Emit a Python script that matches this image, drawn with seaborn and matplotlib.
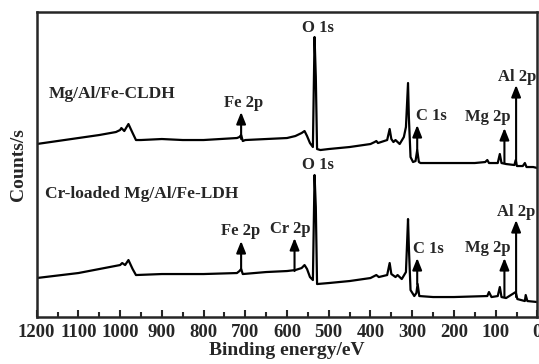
import matplotlib
matplotlib.use('Agg')
import matplotlib.pyplot as plt
from matplotlib.ticker import MultipleLocator
import seaborn as sns
import pandas as pd

# survey spectra (binding energy in eV, counts in arbitrary units)
cldh_ev = [1200, 1150, 1100, 1050, 1010, 1000, 997, 990, 980, 970, 962, 950, 900, 850, 800,
           760, 720, 714, 710, 706, 700, 650, 600, 580, 565, 558, 552, 545, 538, 534, 531,
           528, 520, 500, 450, 400, 390, 386, 382, 360, 354, 350, 345, 340, 335, 330, 320,
           315, 310, 308, 304, 298, 292, 288, 284, 280, 250, 200, 150, 125, 120, 116, 95,
           90, 86, 75, 55, 52, 49, 35, 30, 26, 10, 0]
cldh_counts = [173, 176, 179, 182, 185, 187, 189, 186, 193, 184, 177, 177, 178, 177, 177,
               178, 179, 180, 182, 176, 177, 178, 179, 181, 184, 186, 181, 174, 170, 280, 240,
               168, 167, 168, 170, 173, 175, 176, 174, 177, 188, 178, 175, 177, 175, 173, 180,
               190, 234, 200, 160, 155, 156, 167, 155, 154, 154, 154, 154, 155, 157, 154, 154,
               163, 154, 153, 152, 157, 151, 151, 154, 150, 150, 149]

ldh_ev = [1200, 1100, 1000, 995, 988, 980, 970, 962, 900, 800, 720, 714, 710, 706, 650, 600,
          580, 565, 558, 552, 545, 538, 534, 531, 528, 500, 450, 400, 386, 380, 360, 354, 350,
          340, 335, 325, 315, 310, 308, 304, 295, 290, 287, 283, 250, 200, 120, 116, 110, 95,
          90, 86, 75, 52, 48, 30, 28, 24, 0]
ldh_counts = [39, 44, 52, 54, 52, 57, 48, 42, 43, 43, 44, 46, 48, 43, 45, 46,
              47, 49, 52, 48, 40, 37, 142, 110, 33, 34, 36, 39, 42, 40, 42, 54, 43,
              40, 42, 38, 45, 98, 70, 27, 21, 24, 33, 21, 20, 20, 21, 25, 20, 21,
              30, 20, 19, 25, 18, 16, 22, 16, 15]

# peak labels: (text, energy, arrow base, arrow tip, label x, label y)
cldh_marks = [('Fe 2p', 710, 178, 205, 704, 206),
              ('C 1s', 288, 167, 192, 255, 193),
              ('Mg 2p', 79, 154, 189, 120, 192),
              ('Al 2p', 51, 154, 232, 49, 232)]
ldh_marks = [('Fe 2p', 710, 47, 76, 712, 78),
             ('Cr 2p', 582, 46, 79, 592, 80),
             ('C 1s', 288, 33, 59, 261, 60),
             ('Mg 2p', 79, 20, 59, 119, 61),
             ('Al 2p', 51, 20, 97, 50, 97)]

sns.set_style('ticks')
plt.rcParams['font.family'] = ['Liberation Serif', 'DejaVu Serif']
plt.rcParams['font.weight'] = 'bold'

fig = plt.figure(figsize=(5.39, 3.64), dpi=100)
ax = fig.add_axes([0.068, 0.129, 0.929, 0.838])

df = pd.concat([pd.DataFrame({'ev': cldh_ev, 'counts': cldh_counts, 'sample': 'CLDH'}),
                pd.DataFrame({'ev': ldh_ev, 'counts': ldh_counts, 'sample': 'LDH'})])
sns.lineplot(data=df, x='ev', y='counts', units='sample', estimator=None, sort=False,
             color='black', linewidth=1.6, ax=ax, legend=False)

ax.set_xlim(1200, 0)
ax.set_ylim(0, 305)
ax.set_yticks([])
ax.xaxis.set_major_locator(MultipleLocator(100))
ax.xaxis.set_minor_locator(MultipleLocator(50))
ax.tick_params(axis='x', which='major', direction='in', length=5, width=1.5,
               labelsize=13.5, pad=5)
ax.tick_params(axis='x', which='minor', direction='in', length=3.5, width=1.5)
for lbl in ax.get_xticklabels():
    lbl.set_fontweight('bold')
for s in ax.spines.values():
    s.set_visible(True)
    s.set_linewidth(1.8)

ax.set_xlabel('Binding energy/eV', fontsize=14, fontweight='bold', labelpad=1)
ax.set_ylabel('Counts/s', fontsize=14, fontweight='bold', labelpad=7)

for marks in (cldh_marks, ldh_marks):
    for text, ev, base, tip, lx, ly in marks:
        ax.annotate('', xy=(ev, tip), xytext=(ev, base),
                    arrowprops=dict(arrowstyle='-|>,head_length=0.7,head_width=0.28',
                                    color='black', lw=1.5, shrinkA=0, shrinkB=0))
        ax.text(lx, ly, text, ha='center', va='bottom', fontsize=12, fontweight='bold')

ax.text(527, 281, 'O 1s', ha='center', va='bottom', fontsize=12, fontweight='bold')
ax.text(527, 144, 'O 1s', ha='center', va='bottom', fontsize=12, fontweight='bold')
ax.text(1170, 223, 'Mg/Al/Fe-CLDH', ha='left', va='center', fontsize=12.5, fontweight='bold')
ax.text(1180, 123, 'Cr-loaded Mg/Al/Fe-LDH', ha='left', va='center', fontsize=12.5,
        fontweight='bold')

fig.savefig('out.png', dpi=100)
